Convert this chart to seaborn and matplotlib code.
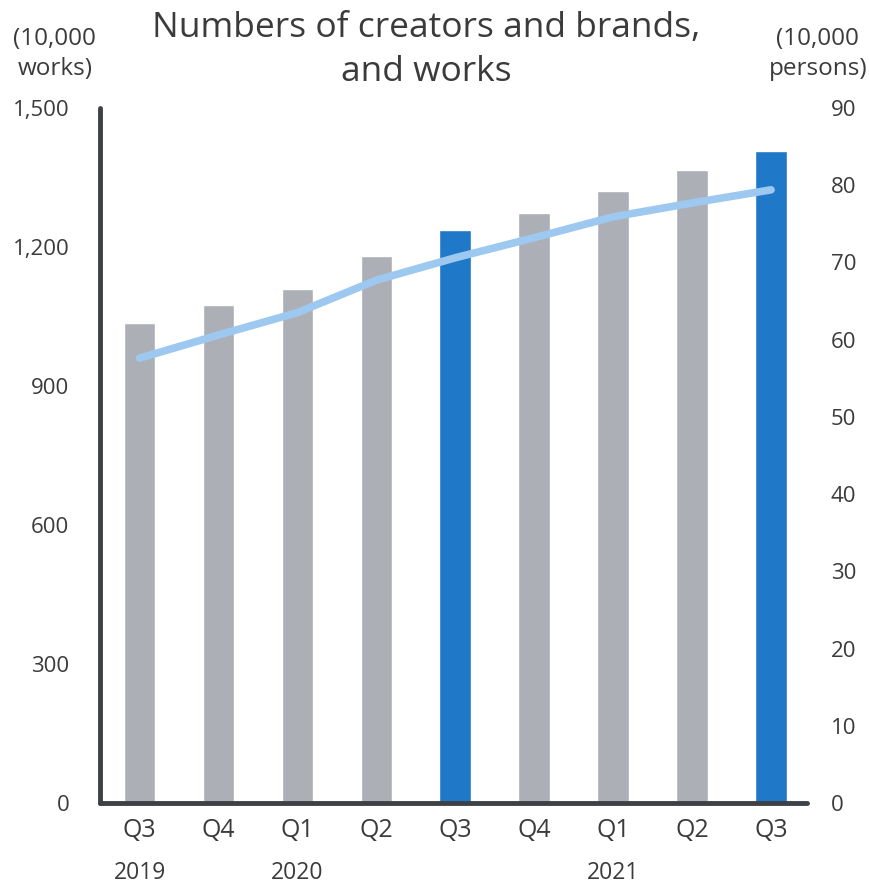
import matplotlib
matplotlib.use("Agg")
import matplotlib.pyplot as plt
import seaborn as sns
import pandas as pd

# Quarterly figures
periods = ["2019 Q3", "2019 Q4", "2020 Q1", "2020 Q2", "2020 Q3",
           "2020 Q4", "2021 Q1", "2021 Q2", "2021 Q3"]
quarter_labels = ["Q3", "Q4", "Q1", "Q2", "Q3", "Q4", "Q1", "Q2", "Q3"]
works = [1036, 1075, 1109, 1181, 1237, 1273, 1321, 1366, 1407]          # 10,000 works
creators = [57.6, 60.6, 63.5, 67.7, 70.6, 73.2, 75.9, 77.7, 79.4]       # 10,000 persons
highlight = [False, False, False, False, True, False, False, False, True]
year_labels = {0: "2019", 2: "2020", 6: "2021"}

GRAY = "#acafb6"
BLUE = "#1f78c8"
LINE = "#9dc8ef"
TEXT = "#3b3b3b"
AXIS = "#3d4045"

sns.set_theme(style="white")
plt.rcParams["font.family"] = ["Open Sans", "DejaVu Sans"]

df = pd.DataFrame({"period": periods, "works": works, "creators": creators,
                   "idx": range(len(periods))})
palette = {p: (BLUE if h else GRAY) for p, h in zip(periods, highlight)}

fig = plt.figure(figsize=(8.7, 8.85), dpi=100)
ax = fig.add_axes([0.115, 0.0927, 0.813, 0.7853])

sns.barplot(data=df, x="period", y="works", hue="period", order=periods,
            palette=palette, width=0.4, legend=False, saturation=1, ax=ax)

ax2 = ax.twinx()
sns.lineplot(data=df, x="idx", y="creators", color=LINE, linewidth=5.5,
             ax=ax2, solid_capstyle="round", solid_joinstyle="round")

ax.set_xlim(-0.5, 8.46)
ax.set_ylim(0, 1500)
ax2.set_ylim(0, 90)
ax.set_yticks(range(0, 1501, 300))
ax.set_yticklabels([f"{v:,}" for v in range(0, 1501, 300)])
ax2.set_yticks(range(0, 91, 10))
ax.set_xticks(range(len(periods)))
ax.set_xticklabels(quarter_labels)

for a in (ax, ax2):
    a.set_xlabel("")
    a.set_ylabel("")
    for s in a.spines.values():
        s.set_visible(False)
    a.tick_params(length=0, colors=TEXT, labelsize=16)
    a.grid(False)

ax.spines["left"].set_visible(True)
ax.spines["bottom"].set_visible(True)
ax.spines["left"].set_color(AXIS)
ax.spines["bottom"].set_color(AXIS)
ax.spines["left"].set_linewidth(3.5)
ax.spines["bottom"].set_linewidth(3.5)
ax.spines["left"].set_capstyle("round")
ax.spines["bottom"].set_capstyle("round")

ax.tick_params(axis="y", pad=22)
ax.tick_params(axis="x", pad=11, labelsize=18)
ax2.tick_params(axis="y", pad=17)

for i, yr in year_labels.items():
    ax.text(i, -0.101, yr, transform=ax.get_xaxis_transform(), ha="center",
            va="center", fontsize=16.5, color=TEXT)

fig.text(0.063, 0.939, "(10,000\nworks)", ha="center", va="center",
         fontsize=17.5, color=TEXT, linespacing=1.3)
fig.text(0.940, 0.939, "(10,000\npersons)", ha="center", va="center",
         fontsize=17.5, color=TEXT, linespacing=1.3)
fig.text(0.49, 0.9435, "Numbers of creators and brands,\nand works", ha="center",
         va="center", fontsize=25.5, color=TEXT, linespacing=1.38)

fig.savefig("out.png", dpi=100, facecolor="white")
